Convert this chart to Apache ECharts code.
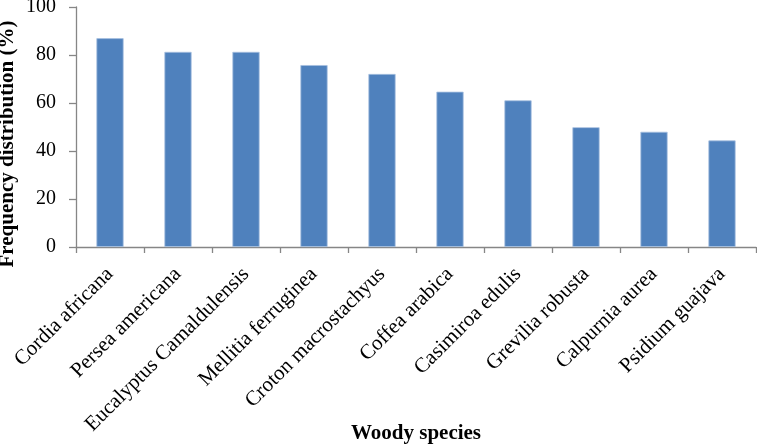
<!DOCTYPE html>
<html>
<head>
<meta charset="utf-8">
<script src="https://cdn.jsdelivr.net/npm/echarts@6/dist/echarts.min.js"></script>
<style>
  html, body { margin: 0; padding: 0; background: #fff; }
  #chart { width: 757px; height: 446px; }
</style>
</head>
<body>
<div id="chart"></div>
<script>
// species on the x axis
var species = ['Cordia africana', 'Persea americana', 'Eucalyptus Camaldulensis',
  'Mellitia ferruginea', 'Croton macrostachyus', 'Coffea arabica',
  'Casimiroa edulis', 'Grevilia robusta', 'Calpurnia aurea', 'Psidium guajava'];
// frequency distribution (%)
var freq = [87, 81.3, 81.3, 75.8, 72.1, 64.7, 61.1, 49.9, 48, 44.4];
var yTicks = [0, 20, 40, 60, 80, 100];

var ff = '"Liberation Serif", "Times New Roman", serif';
var axisGray = '#868686';

var myChart = echarts.init(document.getElementById('chart'));
var option = {
  animation: false,
  grid: { left: 76, right: 1, top: 7, bottom: 199, containLabel: false, outerBoundsMode: 'none' },
  xAxis: {
    type: 'category',
    data: species,
    name: 'Woody species',
    nameLocation: 'middle',
    nameGap: 176,
    nameMoveOverlap: false,
    nameTextStyle: { fontFamily: ff, fontSize: 21, fontWeight: 'bold', color: '#000' },
    axisLine: { lineStyle: { color: axisGray, width: 1.3 } },
    axisTick: { show: true, length: 6, lineStyle: { color: axisGray, width: 1.3 } },
    axisLabel: { rotate: 45, margin: 24, fontFamily: ff, fontSize: 21, color: '#000' }
  },
  yAxis: {
    type: 'value',
    min: yTicks[0],
    max: yTicks[yTicks.length - 1],
    interval: 20,
    name: 'Frequency distribution (%)',
    nameLocation: 'middle',
    nameGap: 58,
    nameMoveOverlap: false,
    nameTextStyle: { fontFamily: ff, fontSize: 21, fontWeight: 'bold', color: '#000', padding: [0, 34, 0, 0] },
    axisLine: { show: true, lineStyle: { color: axisGray, width: 1.3 } },
    axisTick: { show: true, length: 7, lineStyle: { color: axisGray, width: 1.3 } },
    axisLabel: { margin: 20, fontFamily: ff, fontSize: 20, color: '#000' },
    splitLine: { show: false }
  },
  series: [{
    type: 'bar',
    data: freq,
    barWidth: '40%',
    itemStyle: { color: '#4F81BD', borderColor: '#A7C0E0', borderWidth: 0.8 }
  }]
};
myChart.setOption(option);
</script>
</body>
</html>
